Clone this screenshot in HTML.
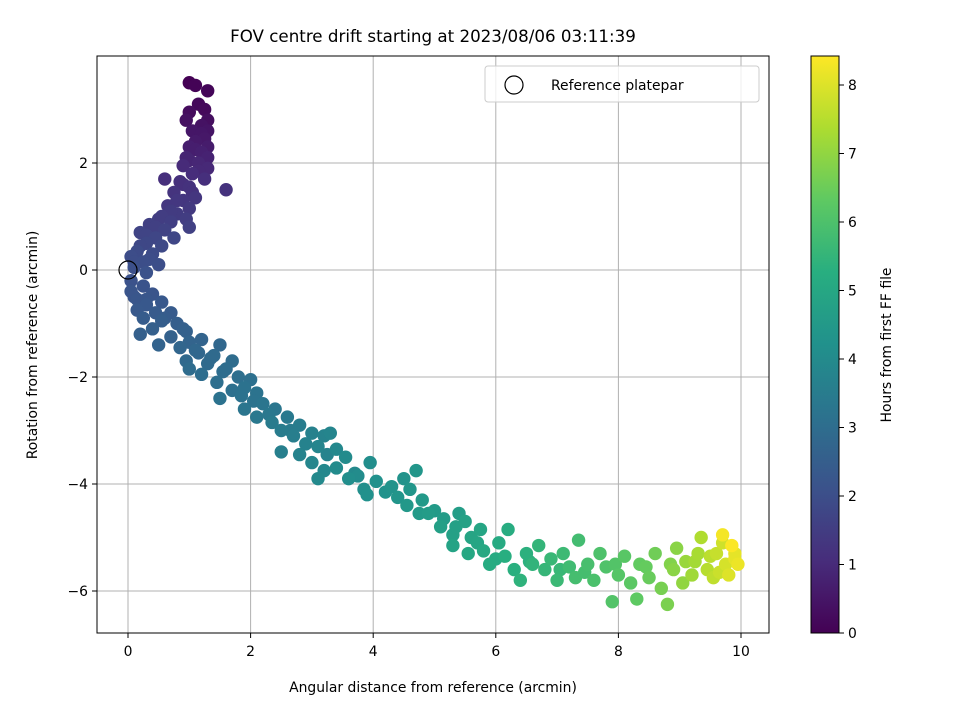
<!DOCTYPE html>
<html><head><meta charset="utf-8"><style>
body{margin:0;background:#fff}
svg{font-family:"DejaVu Sans","Liberation Sans",sans-serif;display:block}
</style></head><body>
<svg id="chart" width="960" height="720" viewBox="0 0 960 720" xmlns="http://www.w3.org/2000/svg">
<defs>
<linearGradient id="vir" x1="0" y1="1" x2="0" y2="0">
<stop offset="0" stop-color="#440154"/><stop offset="0.125" stop-color="#472d7b"/><stop offset="0.25" stop-color="#3b528b"/><stop offset="0.375" stop-color="#2c728e"/><stop offset="0.5" stop-color="#21918c"/><stop offset="0.625" stop-color="#28ae80"/><stop offset="0.75" stop-color="#5ec962"/><stop offset="0.875" stop-color="#addc30"/><stop offset="1" stop-color="#fde725"/>
</linearGradient>
<clipPath id="pc"><rect x="97" y="56" width="672" height="577"/></clipPath>
</defs>
<g id="grid"></g>
<g id="pts" clip-path="url(#pc)"></g>
<circle cx="0" cy="0" r="9" fill="none" stroke="#000" stroke-width="1.2" id="refpt"/>
<rect x="97" y="56" width="672" height="577" fill="none" stroke="#000" stroke-width="1"/>
<g id="ticks"></g>
<text x="433" y="42" text-anchor="middle" font-size="16.7">FOV centre drift starting at 2023/08/06 03:11:39</text>
<text x="433" y="692" text-anchor="middle" font-size="13.9">Angular distance from reference (arcmin)</text>
<text x="37" y="345" text-anchor="middle" font-size="13.9" transform="rotate(-90 37 345)">Rotation from reference (arcmin)</text>
<g>
<rect x="485" y="66" width="274" height="36" rx="3" fill="#fff" fill-opacity="0.8" stroke="#ccc"/>
<circle cx="514" cy="85" r="9" fill="none" stroke="#000" stroke-width="1.2"/>
<text x="551" y="90" font-size="13.9">Reference platepar</text>
</g>
<rect x="811" y="56" width="28" height="577" fill="url(#vir)" stroke="#000" stroke-width="1"/>
<g id="cbticks"></g>
<text x="891" y="345" text-anchor="middle" font-size="13.9" transform="rotate(-90 891 345)">Hours from first FF file</text>
</svg>
<script>
const xTicks=[0,2,4,6,8,10];
const yTicks=[2,0,-2,-4,-6];
const cbTicks=[0,1,2,3,4,5,6,7,8];
const xs=[1.0,1.1,1.3,1.15,1.25,1.0,1.3,0.95,1.2,1.3,1.05,1.25,1.1,1.3,1.0,1.2,1.3,0.95,1.15,1.3,0.9,1.05,0.6,1.25,0.85,1.0,1.6,0.75,1.1,0.9,0.65,1.0,0.8,0.5,0.95,0.7,0.35,1.0,0.6,0.2,0.45,0.75,0.3,0.55,0.15,0.4,0.05,0.25,0.5,0.1,0.3,
1.2,1.1,1.0,1.15,1.05,0.9,0.8,0.7,0.55,0.45,0.3,0.2,0.1,0.35,
0.05,0.25,0.05,0.4,0.15,0.3,0.55,0.15,0.45,0.7,0.25,0.55,0.8,0.2,0.4,0.95,0.7,0.5,1.0,1.2,0.85,1.5,1.15,0.95,1.4,1.3,1.7,1.0,1.55,1.2,1.8,1.45,2.0,1.7,1.5,1.85,2.1,1.9,2.2,
0.1,0.3,0.6,0.9,1.1,1.35,1.6,1.9,2.05,
2.4,2.1,2.6,2.35,2.5,2.8,2.7,2.5,3.0,2.9,3.2,2.8,3.1,3.3,3.0,3.4,3.2,3.1,3.55,3.4,3.75,3.6,3.95,3.85,4.05,3.9,4.2,4.5,4.4,4.7,4.6,4.55,4.8,5.0,4.75,5.15,5.4,5.1,5.3,5.5,5.3,5.6,5.75,5.55,
2.3,2.65,3.25,3.7,4.3,4.9,5.35,5.7,
5.8,6.05,5.9,6.2,6.15,6.3,6.5,6.4,6.6,6.7,6.8,6.9,7.0,7.1,7.2,7.35,7.3,7.5,7.6,7.7,7.8,7.9,8.0,8.1,8.2,8.3,8.35,
6.0,6.55,7.05,7.45,7.95,8.45,
8.5,8.6,8.7,8.8,8.85,8.95,9.05,9.1,9.2,9.3,9.35,9.45,9.55,9.6,9.7,9.75,9.8,9.9,9.95,9.7,9.85,
8.9,9.25,9.5,9.65,9.9];
const ys=[3.5,3.45,3.35,3.1,3.0,2.95,2.8,2.8,2.7,2.6,2.6,2.45,2.4,2.3,2.3,2.2,2.1,2.1,2.0,1.9,1.95,1.8,1.7,1.7,1.65,1.55,1.5,1.45,1.35,1.3,1.2,1.15,1.05,0.95,0.95,0.9,0.85,0.8,0.75,0.7,0.6,0.6,0.5,0.45,0.35,0.3,0.25,0.15,0.1,0.05,-0.05,
2.55,2.25,2.05,1.85,1.45,1.6,1.3,1.1,1.0,0.8,0.65,0.45,0.15,0.2,
-0.2,-0.3,-0.4,-0.45,-0.55,-0.65,-0.6,-0.75,-0.8,-0.8,-0.9,-0.95,-1.0,-1.2,-1.1,-1.15,-1.25,-1.4,-1.35,-1.3,-1.45,-1.4,-1.55,-1.7,-1.6,-1.75,-1.7,-1.85,-1.9,-1.95,-2.0,-2.1,-2.05,-2.25,-2.4,-2.35,-2.3,-2.6,-2.5,
-0.5,-0.55,-0.9,-1.1,-1.5,-1.65,-1.85,-2.2,-2.45,
-2.6,-2.75,-2.75,-2.85,-3.0,-2.9,-3.1,-3.4,-3.05,-3.25,-3.1,-3.45,-3.3,-3.05,-3.6,-3.35,-3.75,-3.9,-3.5,-3.7,-3.85,-3.9,-3.6,-4.1,-3.95,-4.2,-4.15,-3.9,-4.25,-3.75,-4.1,-4.4,-4.3,-4.5,-4.55,-4.65,-4.55,-4.8,-4.95,-4.7,-5.15,-5.0,-4.85,-5.3,
-2.7,-3.0,-3.45,-3.8,-4.05,-4.55,-4.8,-5.1,
-5.25,-5.1,-5.5,-4.85,-5.35,-5.6,-5.3,-5.8,-5.5,-5.15,-5.6,-5.4,-5.8,-5.3,-5.55,-5.05,-5.75,-5.5,-5.8,-5.3,-5.55,-6.2,-5.7,-5.35,-5.85,-6.15,-5.5,
-5.4,-5.45,-5.6,-5.65,-5.5,-5.55,
-5.75,-5.3,-5.95,-6.25,-5.5,-5.2,-5.85,-5.45,-5.7,-5.3,-5.0,-5.6,-5.75,-5.3,-5.1,-5.5,-5.7,-5.3,-5.5,-4.95,-5.15,
-5.6,-5.45,-5.35,-5.65,-5.4];
const hours=[0.0,0.05,0.1,0.15,0.2,0.25,0.3,0.35,0.4,0.45,0.5,0.55,0.6,0.65,0.7,0.75,0.8,0.85,0.9,0.95,1.0,1.05,1.1,1.1,1.15,1.2,1.2,1.25,1.3,1.3,1.35,1.4,1.45,1.5,1.5,1.55,1.6,1.6,1.65,1.7,1.75,1.75,1.8,1.85,1.9,1.9,1.95,2.0,2.0,2.05,2.1,
0.5,0.7,0.85,0.95,1.2,1.15,1.35,1.45,1.5,1.6,1.7,1.8,1.95,1.95,
2.1,2.15,2.2,2.2,2.25,2.3,2.3,2.35,2.4,2.4,2.45,2.5,2.5,2.55,2.55,2.6,2.6,2.65,2.7,2.7,2.75,2.8,2.8,2.85,2.9,2.9,2.95,2.95,3.0,3.0,3.05,3.05,3.1,3.1,3.15,3.15,3.2,3.25,3.25,
2.2,2.25,2.45,2.55,2.8,2.9,3.0,3.15,3.2,
3.3,3.35,3.4,3.45,3.5,3.5,3.55,3.6,3.65,3.7,3.75,3.75,3.8,3.8,3.85,3.9,3.9,3.95,4.0,4.0,4.05,4.1,4.1,4.15,4.2,4.2,4.25,4.3,4.35,4.4,4.4,4.45,4.5,4.55,4.55,4.6,4.65,4.7,4.75,4.8,4.85,4.9,4.95,5.0,
3.35,3.45,3.75,3.95,4.3,4.6,4.75,4.95,
5.05,5.1,5.15,5.2,5.25,5.3,5.35,5.4,5.45,5.5,5.55,5.6,5.65,5.7,5.75,5.8,5.85,5.9,5.95,6.0,6.05,6.1,6.15,6.2,6.25,6.3,6.35,
5.1,5.35,5.6,5.85,6.1,6.4,
6.45,6.55,6.65,6.7,6.8,6.9,7.0,7.1,7.2,7.3,7.4,7.5,7.6,7.7,7.8,7.9,8.0,8.1,8.2,8.3,8.4,
6.9,7.25,7.55,7.75,8.1];
const NS='http://www.w3.org/2000/svg';
const X=v=>128+v*61.3, Y=v=>270-v*53.5, C=v=>633-v*68.5;
const stops=[[68,1,84],[71,45,123],[59,82,139],[44,114,142],[33,145,140],[40,174,128],[94,201,98],[173,220,48],[253,231,37]];
function vir(h){let t=Math.max(0,Math.min(1,h/8.42))*8;let i=Math.min(7,Math.floor(t)),f=t-i;const a=stops[i],b=stops[i+1];return 'rgb('+a.map((c,k)=>Math.round(c+(b[k]-c)*f)).join(',')+')';}
function mk(tag,attrs,parent){const e=document.createElementNS(NS,tag);for(const k in attrs)e.setAttribute(k,attrs[k]);parent.appendChild(e);return e;}
const grid=document.getElementById('grid'),ticks=document.getElementById('ticks'),pts=document.getElementById('pts'),cbt=document.getElementById('cbticks');
xTicks.forEach(v=>{const x=X(v);
const g=mk('line',{x1:x,x2:x,y1:56,y2:633,stroke:'#b0b0b0','stroke-width':1},grid);


const t=mk('line',{x1:x,x2:x,y1:633,y2:638,stroke:'#000'},ticks);


const l=mk('text',{x:x,y:656,'text-anchor':'middle','font-size':'13.9'},ticks);l.textContent=v;

});
yTicks.forEach(v=>{const y=Y(v);
const g=mk('line',{x1:97,x2:769,y1:y,y2:y,stroke:'#b0b0b0','stroke-width':1},grid);


const t=mk('line',{x1:92,x2:97,y1:y,y2:y,stroke:'#000'},ticks);


const l=mk('text',{x:88,y:y+5,'text-anchor':'end','font-size':'13.9'},ticks);l.textContent=(v<0?'\u2212'+(-v):v);

});
cbTicks.forEach(v=>{const y=C(v);
const t=mk('line',{x1:839,x2:844,y1:y,y2:y,stroke:'#000'},cbt);


const l=mk('text',{x:848,y:y+5,'font-size':'13.9'},cbt);l.textContent=v;

});
const order=hours.map((h,i)=>i).sort((a,b)=>hours[a]-hours[b]);
order.forEach(i=>{const c=mk('circle',{cx:X(xs[i]),cy:Y(ys[i]),r:6.7,fill:vir(hours[i])},pts);

});
const rp=document.getElementById('refpt');rp.setAttribute('cx',X(0));rp.setAttribute('cy',Y(0));
</script>
</body></html>
